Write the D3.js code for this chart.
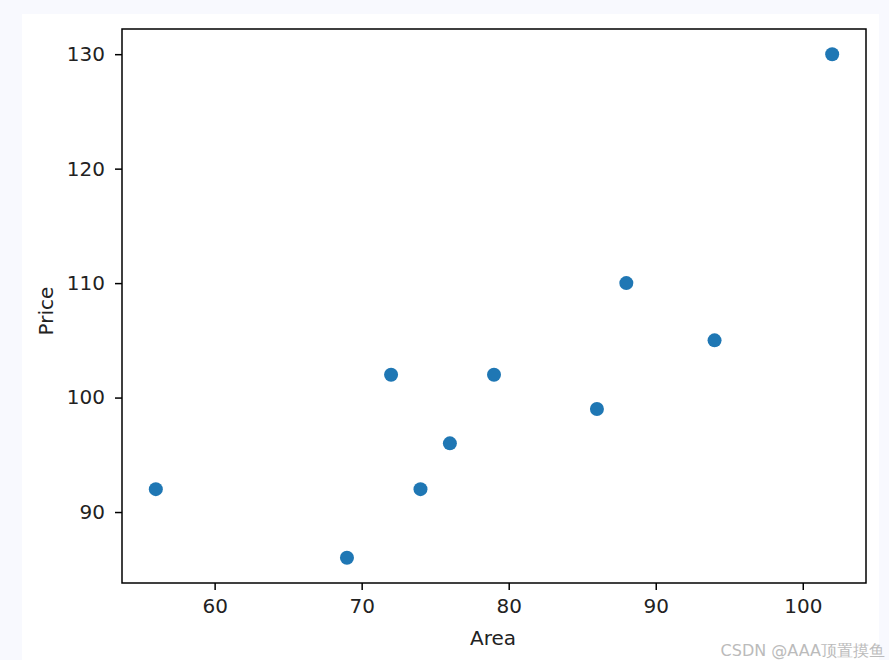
<!DOCTYPE html>
<html>
<head>
<meta charset="utf-8">
<script src="https://cdn.jsdelivr.net/npm/d3@7"></script>
<style>
  body { margin: 0; background: #f8f9fe; }
  svg text { font-family: "DejaVu Sans", sans-serif; }
</style>
</head>
<body>
<div id="chart"></div>
<script>
// scatter of Area vs Price
var area  = [56, 69, 72, 74, 76, 79, 86, 88, 94, 102];
var price = [92, 86, 102, 92, 96, 102, 99, 110, 105, 130];
var xTicks = [60, 70, 80, 90, 100];
var yTicks = [90, 100, 110, 120, 130];

var width = 889, height = 660;
var plot = {left: 122, right: 866, top: 29, bottom: 583};

var svg = d3.select("#chart").append("svg")
    .attr("width", width).attr("height", height);

// white figure panel
svg.append("rect").attr("x", 22).attr("y", 14)
    .attr("width", 857).attr("height", height - 14).attr("fill", "#fff");

// matplotlib style 5% margins
var xr = d3.extent(area), yr = d3.extent(price);
var xm = (xr[1] - xr[0]) * 0.05, ym = (yr[1] - yr[0]) * 0.05;

var x = d3.scaleLinear().domain([xr[0] - xm, xr[1] + xm]).range([plot.left, plot.right]);
var y = d3.scaleLinear().domain([yr[0] - ym, yr[1] + ym]).range([plot.bottom, plot.top]);

var fontSize = 20;

var gx = svg.append("g").attr("transform", "translate(0," + plot.bottom + ")")
    .call(d3.axisBottom(x).tickValues(xTicks).tickSize(7).tickPadding(9).tickSizeOuter(0));
var gy = svg.append("g").attr("transform", "translate(" + plot.left + ",0)")
    .call(d3.axisLeft(y).tickValues(yTicks).tickSize(7).tickPadding(10).tickSizeOuter(0));

[gx, gy].forEach(function (g) {
    g.select(".domain").remove();
    g.selectAll("line").attr("stroke", "#000").attr("stroke-width", 1.5);
    g.selectAll("text").attr("font-size", fontSize).attr("fill", "#222")
        .attr("font-family", "DejaVu Sans, sans-serif");
});

// axes frame
svg.append("rect")
    .attr("x", plot.left).attr("y", plot.top)
    .attr("width", plot.right - plot.left).attr("height", plot.bottom - plot.top)
    .attr("fill", "none").attr("stroke", "#000").attr("stroke-width", 1.5);

svg.append("g").selectAll("circle")
    .data(area.map(function (a, i) { return [a, price[i]]; }))
    .enter().append("circle")
    .attr("cx", function (d) { return x(d[0]); })
    .attr("cy", function (d) { return y(d[1]); })
    .attr("r", 7)
    .attr("fill", "#1f77b4");

svg.append("text")
    .attr("x", 493).attr("y", 645)
    .attr("text-anchor", "middle").attr("font-size", fontSize).attr("fill", "#222")
    .text("Area");

svg.append("text")
    .attr("transform", "translate(53,311) rotate(-90)")
    .attr("text-anchor", "middle").attr("font-size", fontSize).attr("fill", "#222")
    .text("Price");

// watermark
svg.append("text")
    .attr("x", 885).attr("y", 656)
    .attr("text-anchor", "end").attr("font-size", 16).attr("fill", "#bbb")
    .attr("font-family", "Noto Sans CJK SC, sans-serif")
    .text("CSDN @AAA顶置摸鱼");
</script>
</body>
</html>
